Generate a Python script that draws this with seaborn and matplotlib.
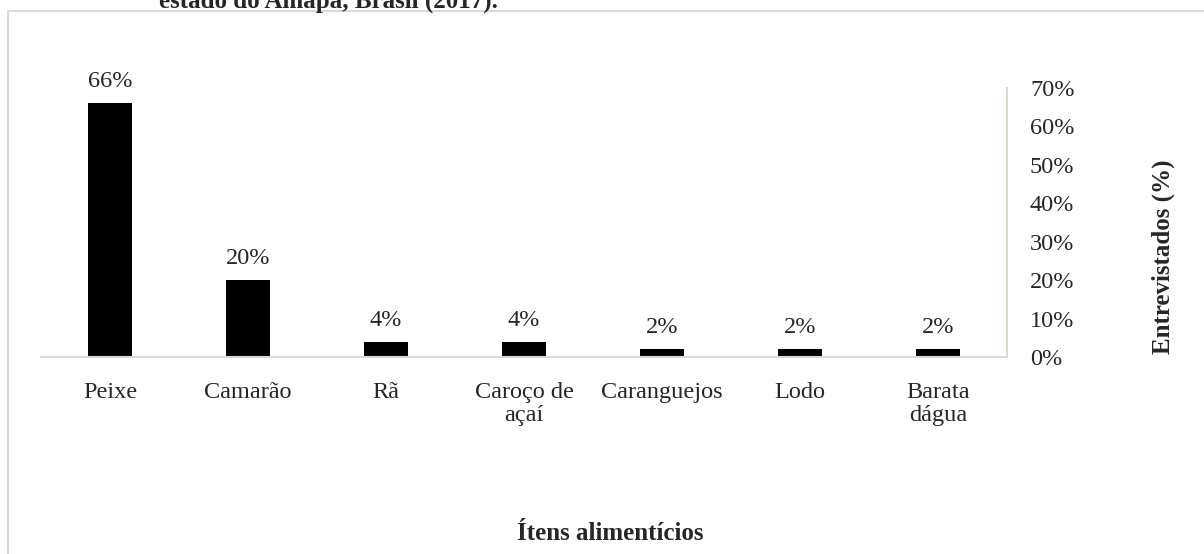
import matplotlib
matplotlib.use("Agg")
import matplotlib.pyplot as plt
import seaborn as sns
from matplotlib.patches import Rectangle
from matplotlib.ticker import PercentFormatter

# data
itens = ["Peixe", "Camarão", "Rã", "Caroço de\naçaí", "Caranguejos", "Lodo", "Barata\ndágua"]
entrevistados = [0.66, 0.20, 0.04, 0.04, 0.02, 0.02, 0.02]
y_ticks = [0.0, 0.1, 0.2, 0.3, 0.4, 0.5, 0.6, 0.7]

sns.set_style("white")
plt.rcParams['font.family'] = ['Liberation Serif', 'DejaVu Serif']

W, H = 1204, 554
fig = plt.figure(figsize=(W / 100, H / 100), dpi=100)
ax = fig.add_axes([41 / W, 1 - 357 / H, (1007 - 41) / W, (357 - 88) / H])

sns.barplot(x=itens, y=entrevistados, color="black", width=0.32, ax=ax,
            saturation=1, edgecolor="black", linewidth=0)

ax.set_xlim(-0.5, len(itens) - 0.5)
ax.set_ylim(0, 0.7)
ax.set_yticks(y_ticks)
ax.yaxis.set_major_formatter(PercentFormatter(1.0, decimals=0))
ax.yaxis.tick_right()
ax.tick_params(axis="y", length=0, pad=16.5, labelsize=17.5)
ax.tick_params(axis="x", length=0, pad=18, labelsize=17.5)
for lab in ax.get_xticklabels():
    lab.set_linespacing(1.15)
ax.set_xlabel("")
ax.set_ylabel("")

for side in ["top", "left"]:
    ax.spines[side].set_visible(False)
ax.spines["bottom"].set_color("#d9d9d9")
ax.spines["bottom"].set_linewidth(1.5)
ax.spines["right"].set_color("#ddd9c8")
ax.spines["right"].set_linewidth(1.5)

ax.bar_label(ax.containers[0], labels=[f"{v:.0%}" for v in entrevistados],
             padding=8, fontsize=17.5)

# axis titles
fig.text(610 / W, 1 - 533 / H, "Ítens alimentícios", ha="center", va="center",
         fontsize=18, fontweight="bold")
fig.text(1163 / W, 1 - 257 / H, "Entrevistados (%)", ha="center", va="center",
         rotation=90, fontsize=18, fontweight="bold")

# caption cut by the top edge of the picture
fig.text(328 / W, 1 - 7.5 / H, "estado do Amapá, Brasil (2017).", ha="center",
         va="baseline", fontsize=18, fontweight="bold")

# light frame around the chart area
fig.patches.append(Rectangle((8 / W, -0.5), 2, 1.5 - 10.5 / H, transform=fig.transFigure,
                             fill=False, edgecolor="#d9d9d9", linewidth=1.5, zorder=0))

fig.savefig("out.png", dpi=100)
